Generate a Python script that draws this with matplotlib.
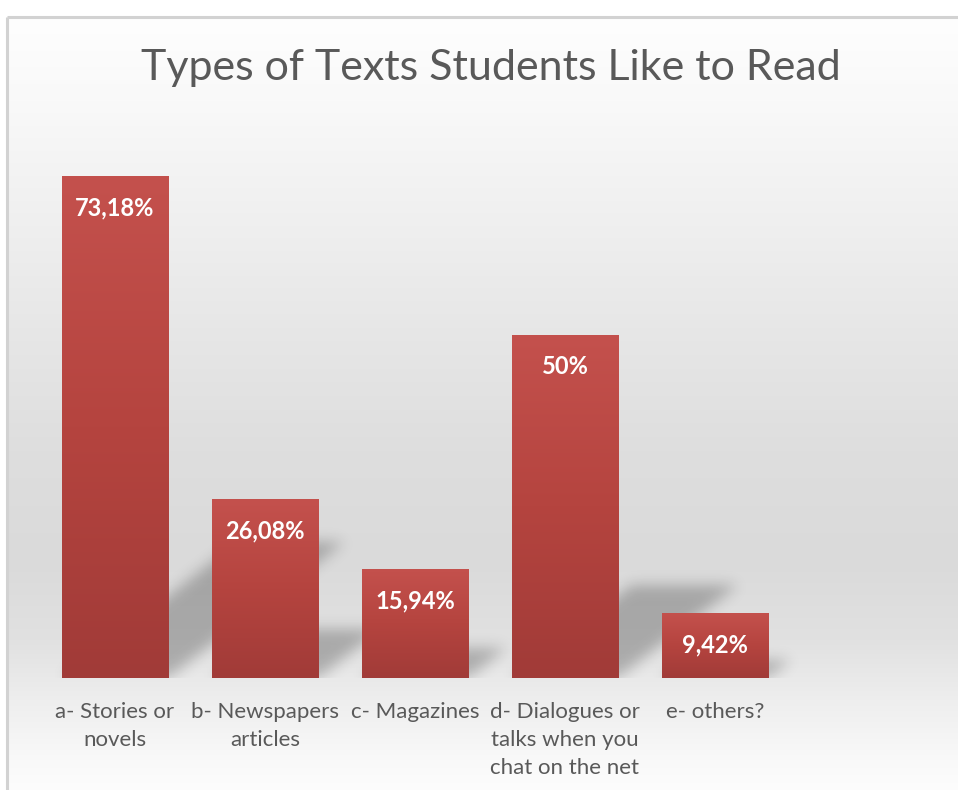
import numpy as np
import matplotlib
matplotlib.use("Agg")
import matplotlib.pyplot as plt
from matplotlib.path import Path
from matplotlib.colors import LinearSegmentedColormap

# Dados da pesquisa
categorias = ["a- Stories or\nnovels", "b- Newspapers\narticles", "c- Magazines",
              "d- Dialogues or\ntalks when you\nchat on the net", "e- others?"]
valores = [73.18, 26.08, 15.94, 50.0, 9.42]
rotulos = ["73,18%", "26,08%", "15,94%", "50%", "9,42%"]
titulo = "Types of Texts Students Like to Read"

W, H = 958, 790
plt.rcParams['font.family'] = ['Lato', 'DejaVu Sans']
fig = plt.figure(figsize=(W / 100, H / 100), dpi=100)

# Fundo em degradê (branco -> cinza -> branco) dentro da moldura
bg = fig.add_axes([0, 0, 1, 1], zorder=0)
bg.set_xlim(0, W)
bg.set_ylim(H, 0)
bg.axis('off')
ys = np.arange(H)
stops_y = [17, 100, 300, 450, 560, 640, 700, 760, 790]
stops_v = [254, 249, 233, 222, 218, 225, 238, 249, 253]
grad = np.interp(ys, stops_y, stops_v) / 255.0
img = np.repeat(grad[:, None], W, axis=1)
img[:17, :] = 1.0
img[:, :7] = 1.0
bg.imshow(np.dstack([img, img, img]), extent=[0, W, H, 0], aspect='auto', interpolation='bilinear')
bg.plot([7, 7], [H, 17], color='#d2d2d2', lw=2.2, solid_capstyle='butt')
bg.plot([7, W], [17, 17], color='#d2d2d2', lw=2.2, solid_capstyle='butt')
bg.text(491, 68, titulo, ha='center', va='center', fontsize=31, color='#595959')

# Eixo principal
ax = fig.add_axes([40 / W, (H - 678) / H, 900 / W, 518 / H], zorder=1)
ax.patch.set_alpha(0)
x = np.arange(len(valores))
largura = 0.71
ymax = 75.5
xlim = (-0.5, 5.5)

barras = ax.bar(x, valores, width=largura, color='#b4443f', zorder=3)

# Sombra em perspectiva (desfocada) atrás de cada barra
nx, ny = 900, 518
gx = np.linspace(xlim[0], xlim[1], nx)
gy = np.linspace(0, ymax, ny)
XX, YY = np.meshgrid(gx, gy)
pts = np.column_stack([XX.ravel(), YY.ravel()])
mask = np.zeros(nx * ny)
for xi, v in zip(x, valores):
    dy = 0.27 * v
    dx = 0.016 * v
    x0, x1 = xi - largura / 2, xi + largura / 2
    poly = Path([(x0, 0), (x1, 0), (x1 + dx, dy), (x0 + dx, dy), (x0, 0)])
    mask = np.maximum(mask, poly.contains_points(pts).astype(float))
mask = mask.reshape(ny, nx)
sig = 7.0
k = np.arange(-21, 22)
kern = np.exp(-k ** 2 / (2 * sig ** 2))
kern /= kern.sum()
mask = np.apply_along_axis(lambda r: np.convolve(r, kern, mode='same'), 1, mask)
mask = np.apply_along_axis(lambda c: np.convolve(c, kern, mode='same'), 0, mask)
sombra = np.zeros((ny, nx, 4))
sombra[..., 3] = 0.25 * mask
ax.imshow(sombra, extent=[xlim[0], xlim[1], 0, ymax], origin='lower',
          aspect='auto', zorder=2, interpolation='bilinear')

# Degradê vertical nas barras
cmap = LinearSegmentedColormap.from_list('barra', ['#a13b38', '#b5443f', '#c4514d'])
for b in barras:
    bx, bw, bh = b.get_x(), b.get_width(), b.get_height()
    g = np.linspace(0, 1, 256)[:, None]
    im = ax.imshow(g, extent=[bx, bx + bw, 0, bh], origin='lower', cmap=cmap,
                   aspect='auto', zorder=4)
    im.set_clip_path(b)

# Rótulos de valor dentro das barras
for xi, v, r in zip(x, valores, rotulos):
    ax.annotate(r, (xi, v), xytext=(0, -23), textcoords='offset points',
                ha='center', va='center', fontsize=17, fontweight='bold',
                color='white', zorder=5)

ax.set_xlim(*xlim)
ax.set_ylim(0, ymax)
ax.set_xticks(x)
ax.set_xticklabels(categorias, fontsize=16, color='#595959', linespacing=1.5)
ax.tick_params(axis='x', length=0, pad=17)
ax.set_yticks([])
for s in ax.spines.values():
    s.set_visible(False)

fig.savefig('out.png', dpi=100)
